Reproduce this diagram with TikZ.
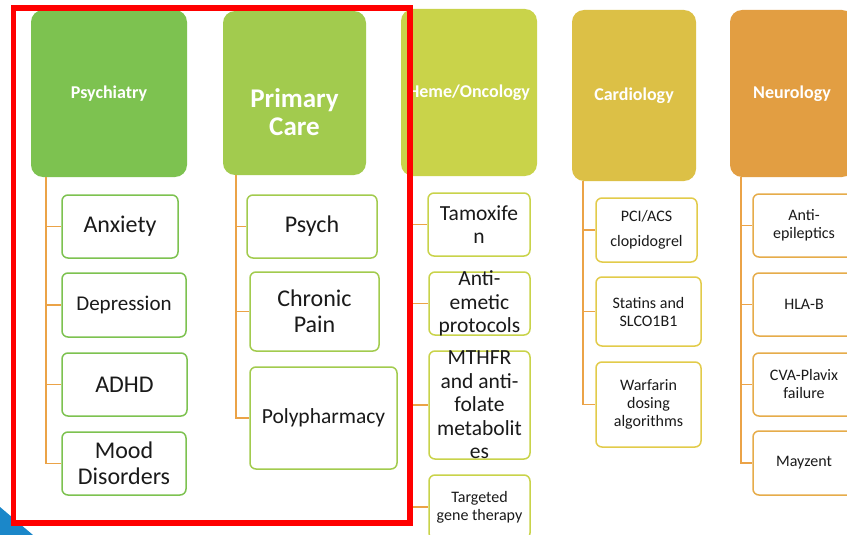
\documentclass[tikz,border=0pt]{standalone}
\usepackage{fontspec}
\setmainfont{Carlito}
\usetikzlibrary{arrows.meta}

\definecolor{psygreen}{HTML}{7DC250}
\definecolor{pcgreen}{HTML}{A2CB4E}
\definecolor{hemegreen}{HTML}{C9D34A}
\definecolor{cardgold}{HTML}{DCC046}
\definecolor{cardline}{HTML}{E2CB4A}
\definecolor{neuroorange}{HTML}{E29E42}
\definecolor{neuroline}{HTML}{E6AC4A}
\definecolor{linkorange}{HTML}{EBA347}
\definecolor{slideblue}{HTML}{1B87C9}
\definecolor{itemink}{HTML}{1A1A1A}

\tikzset{
    headbox/.style={
        rectangle,
        rounded corners=12pt,
        inner sep=0pt,
        text=white,
        align=center,
        node font={\fontsize{18}{20}\selectfont\bfseries}},
    itembox/.style={
        rectangle,
        rounded corners=6pt,
        draw=#1,
        line width=1.5pt,
        fill=white,
        inner sep=0pt,
        text=itemink,
        align=center},
    boxsize/.style 2 args={
        minimum width=#1pt,
        minimum height=#2pt},
    bigitem/.style={node font={\fontsize{24}{26}\selectfont}},
    miditem/.style={node font={\fontsize{21.5}{23.5}\selectfont}},
    smallitem/.style={node font={\fontsize{16}{18}\selectfont}},
    link/.style={
        draw=linkorange,
        line width=1.7pt}
}

\begin{document}
\begin{tikzpicture}[x=1pt,y=-1pt]
    \useasboundingbox (0,0) rectangle (847,535);
    \clip (0,0) rectangle (847,535);
    \fill[white] (0,0) rectangle (847,535);
    \fill[slideblue] (0,507) -- (33,535) -- (0,535) -- cycle;

    \node[headbox, fill=psygreen, boxsize={156}{167}] (psy) at (109,93.5) {Psychiatry};
    \node[headbox, fill=pcgreen, boxsize={143}{164}] (pc) at (294.5,93) {};
    \node[
        text=white,
        align=center,
        inner sep=0pt,
        node font={\fontsize{27}{28}\selectfont\bfseries}]
        (pctext) at ([yshift=-19pt]pc.center) {Primary\\Care};
    \node[headbox, fill=hemegreen, boxsize={136}{167}] (heme) at (469,92.5) {Heme/Oncology};
    \node[headbox, fill=cardgold, boxsize={124}{171}] (card) at (634,95.5) {Cardiology};
    \node[headbox, fill=neuroorange, boxsize={124}{167}] (neuro) at (792,93.5) {Neurology};

    \coordinate (psytrunk) at ([xshift=15pt]psy.south west);
    \coordinate (pctrunk) at ([xshift=13pt]pc.south west);
    \coordinate (hemetrunk) at ([xshift=9pt]heme.south west);
    \coordinate (cardtrunk) at ([xshift=11pt]card.south west);
    \coordinate (neurotrunk) at ([xshift=11pt]neuro.south west);

    \node[itembox=psygreen, boxsize={116}{63}, bigitem] (anx) at (120,226.5) {Anxiety};
    \node[itembox=psygreen, boxsize={124}{64}, node font={\fontsize{21}{23}\selectfont}] (dep) at (124,305) {Depression};
    \node[itembox=psygreen, boxsize={125}{63}, bigitem] (adhd) at (124.5,384.5) {ADHD};
    \node[itembox=psygreen, boxsize={124}{63}, bigitem] (mood) at (124,463.5) {Mood\\Disorders};

    \node[itembox=pcgreen, boxsize={130}{63}, bigitem] (psych) at (312,226.5) {Psych};
    \node[itembox=pcgreen, boxsize={129}{79}, bigitem] (chron) at (314.5,311.5) {Chronic\\Pain};
    \node[itembox=pcgreen, boxsize={147}{102}, node font={\fontsize{21.5}{23}\selectfont}] (poly) at (323.5,418) {Polypharmacy};

    \node[itembox=hemegreen, boxsize={102}{63}, miditem] (tam) at (479,224.5) {Tamoxife\\n};
    \node[itembox=hemegreen, boxsize={101}{63},
        label={[miditem, text=itemink, align=center]center:Anti-\\emetic\\protocols}] (emet) at (479.5,303.5) {};
    \node[itembox=hemegreen, boxsize={101}{108},
        label={[miditem, text=itemink, align=center]center:MTHFR\\and anti-\\folate\\metabolit\\es}] (mthfr) at (479.5,405) {};
    \node[itembox=hemegreen, boxsize={101}{64}, smallitem] (targ) at (479.5,507) {Targeted\\gene therapy};

    \node[itembox=cardline, boxsize={101}{64}, smallitem] (pci) at (646.5,230) {PCI/ACS\\[7pt]clopidogrel};
    \node[itembox=cardline, boxsize={105}{69}, smallitem] (stat) at (648.5,311.5) {Statins and\\SLCO1B1};
    \node[itembox=cardline, boxsize={105}{85}, smallitem] (warf) at (648.5,404.5) {Warfarin\\dosing\\algorithms};

    \node[itembox=neuroline, boxsize={102}{63}, smallitem] (antiep) at (804,225.5) {Anti-\\epileptics};
    \node[itembox=neuroline, boxsize={102}{63}, smallitem] (hla) at (804,304.5) {HLA-B};
    \node[itembox=neuroline, boxsize={102}{63}, smallitem] (cva) at (804,384.5) {CVA-Plavix\\failure};
    \node[itembox=neuroline, boxsize={102}{64}, smallitem] (mayz) at (804,463) {Mayzent};

    \foreach \child in {anx,dep,adhd,mood}
        \draw[link] (psytrunk) |- (\child.west);
    \foreach \child in {psych,chron,poly}
        \draw[link] (pctrunk) |- (\child.west);
    \foreach \child in {tam,emet,mthfr,targ}
        \draw[link] (hemetrunk) |- (\child.west);
    \foreach \child in {pci,stat,warf}
        \draw[link] (cardtrunk) |- (\child.west);
    \foreach \child in {antiep,hla,cva,mayz}
        \draw[link] (neurotrunk) |- (\child.west);

    \draw[red, line width=5.5pt] (13.5,8) rectangle (410,523);
\end{tikzpicture}
\end{document}
